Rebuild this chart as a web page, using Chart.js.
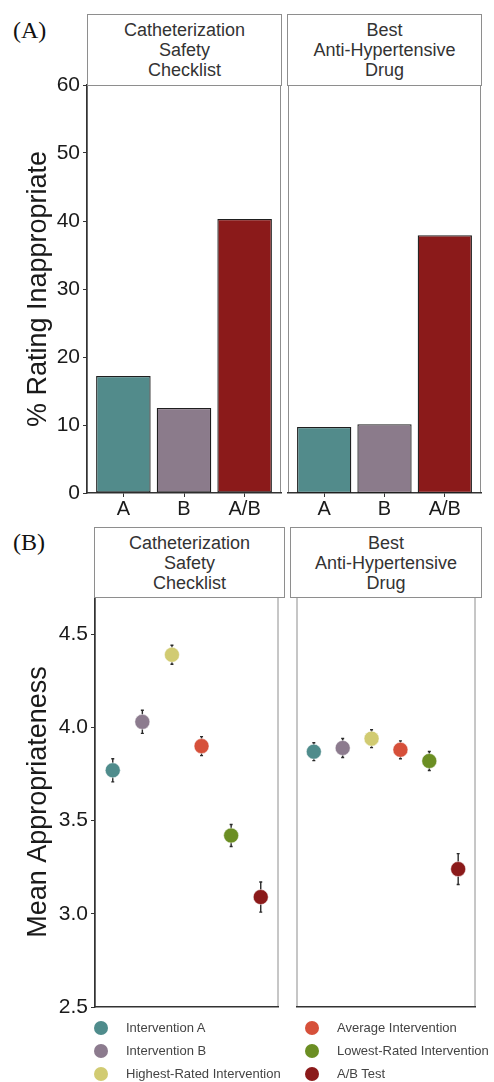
<!DOCTYPE html>
<html>
<head>
<meta charset="utf-8">
<script src="https://cdn.jsdelivr.net/npm/chart.js@4.4.1/dist/chart.umd.min.js"></script>
<style>
  body { margin:0; background:#fff; width:494px; height:1082px; overflow:hidden; position:relative; font-family:"Liberation Sans", Arial, sans-serif; }
  .box { position:absolute; }
  .strip { position:absolute; box-sizing:border-box; border:1px solid #8e8e8e; display:flex; align-items:center; justify-content:center; text-align:center; color:#333; font-size:18px; line-height:20px; white-space:pre; background:#fff; }
  .tag { position:absolute; font-family:"Liberation Serif", serif; font-size:24px; line-height:24px; color:#111; }
  .leg { position:absolute; height:16px; line-height:16px; font-size:13px; color:#444; white-space:nowrap; }
  .leg i { position:absolute; left:-32px; top:1px; width:14px; height:14px; border-radius:50%; }
</style>
</head>
<body>
<div class="tag" style="left:13px; top:18px;">(A)</div>
<div class="tag" style="left:13px; top:530px;">(B)</div>

<div class="box" style="left:0px; top:65px; width:284px; height:463px;"><canvas id="barCath"></canvas></div>
<div class="box" style="left:285px; top:65px; width:199px; height:463px;"><canvas id="barDrug"></canvas></div>
<div class="box" style="left:0px; top:577px; width:287px; height:450px;"><canvas id="dotCath"></canvas></div>
<div class="box" style="left:288px; top:577px; width:196px; height:450px;"><canvas id="dotDrug"></canvas></div>

<div class="strip" id="s1" style="left:87px; top:14px; width:195px; height:72px;"></div>
<div class="strip" id="s2" style="left:287px; top:14px; width:195px; height:72px;"></div>
<div class="strip" id="s3" style="left:94px; top:527px; width:191px; height:71px;"></div>
<div class="strip" id="s4" style="left:290px; top:527px; width:192px; height:71px;"></div>

<div id="legend"></div>

<script>
// facets
const facetNames = ['Catheterization\nSafety\nChecklist', 'Best\nAnti-Hypertensive\nDrug'];

// panel A: % rating inappropriate
const barCategories = ['A', 'B', 'A/B'];
const pctCath = [17.2, 12.5, 40.3];
const pctDrug = [9.7, 10.1, 37.9];
const pctTicks = [0, 10, 20, 30, 40, 50, 60];
const barColors = ['#528b8b', '#8b7b8b', '#8b1a1a'];

// panel B: mean appropriateness (+/- error)
const conditions = ['Intervention A', 'Intervention B', 'Highest-Rated Intervention',
                    'Average Intervention', 'Lowest-Rated Intervention', 'A/B Test'];
const meanCath = [3.77, 4.03, 4.39, 3.90, 3.42, 3.09];
const errCath = [0.062, 0.062, 0.051, 0.051, 0.059, 0.081];
const meanDrug = [3.87, 3.89, 3.94, 3.88, 3.82, 3.24];
const errDrug = [0.048, 0.051, 0.048, 0.048, 0.051, 0.083];
const meanTicks = [2.5, 3.0, 3.5, 4.0, 4.5];
const dotColors = ['#4f8c8c', '#8c7b8e', '#d1cb72', '#d6503a', '#6b8e23', '#8b1a1a'];

const FONT = '"Liberation Sans", Arial, sans-serif';
const INK = '#1a1a1a';

document.getElementById('s1').textContent = facetNames[0];
document.getElementById('s2').textContent = facetNames[1];
document.getElementById('s3').textContent = facetNames[0];
document.getElementById('s4').textContent = facetNames[1];

// legende en deux colonnes (ordre par colonne)
const leg = document.getElementById('legend');
conditions.forEach((c, i) => {
  const col = Math.floor(i / 3), row = i % 3;
  const d = document.createElement('div');
  d.className = 'leg';
  d.style.left = (col === 0 ? 126 : 337) + 'px';
  d.style.top = (1020 + row * 23) + 'px';
  d.innerHTML = '<i style="background:' + dotColors[i] + '"></i>' + c;
  leg.appendChild(d);
});

// cadre gris du panneau
const panelBox = {
  id: 'panelBox',
  beforeDraw(chart) {
    const a = chart.chartArea, ctx = chart.ctx;
    ctx.save();
    ctx.strokeStyle = '#8e8e8e';
    ctx.lineWidth = 1;
    ctx.strokeRect(a.left + 0.5, a.top + 0.5, a.right - a.left - 1, a.bottom - a.top - 1);
    ctx.restore();
  }
};

// barres d'erreur
const errorBars = {
  id: 'errorBars',
  beforeDatasetsDraw(chart) {
    const ds = chart.data.datasets[0];
    if (!ds.err) return;
    const ctx = chart.ctx, x = chart.scales.x, y = chart.scales.y;
    ctx.save();
    ctx.strokeStyle = '#2a2a2a';
    ctx.lineWidth = 1.4;
    ds.data.forEach((p, i) => {
      const px = x.getPixelForValue(p.x);
      const y1 = y.getPixelForValue(p.y + ds.err[i]);
      const y2 = y.getPixelForValue(p.y - ds.err[i]);
      ctx.beginPath();
      ctx.moveTo(px, y1); ctx.lineTo(px, y2);
      ctx.moveTo(px - 1.5, y1); ctx.lineTo(px + 1.5, y1);
      ctx.moveTo(px - 1.5, y2); ctx.lineTo(px + 1.5, y2);
      ctx.stroke();
    });
    ctx.restore();
  }
};

function yAxis(show, ticks, min, max, title, width, fmt) {
  return {
    display: show,
    min: min, max: max,
    afterBuildTicks: s => { s.ticks = ticks.map(v => ({ value: v })); },
    afterFit: s => { s.width = show ? width : 0; },
    ticks: { font: { family: FONT, size: 21 }, color: INK, padding: 3, callback: fmt },
    grid: { drawOnChartArea: false, tickLength: 4, tickColor: '#333' },
    border: { color: '#333', width: 1.4 },
    title: { display: true, text: title, color: INK, font: { family: FONT, size: 27 }, padding: { top: 22, bottom: 0 } }
  };
}

function barChart(id, values, showY) {
  new Chart(document.getElementById(id), {
    type: 'bar',
    data: {
      datasets: [{
        data: barCategories.map((c, i) => ({ x: i + 1, y: values[i] })),
        backgroundColor: barColors,
        borderColor: '#1f1f1f',
        borderWidth: 1.3,
        borderSkipped: false,
        categoryPercentage: 1,
        barPercentage: 0.9
      }]
    },
    options: {
      responsive: true, maintainAspectRatio: false, animation: false,
      layout: { padding: { top: 20, left: showY ? 0 : 3, right: 3, bottom: 0 } },
      plugins: { legend: { display: false }, tooltip: { enabled: false } },
      scales: {
        x: {
          type: 'linear', min: 0.4, max: 3.6, offset: false,
          afterBuildTicks: s => { s.ticks = barCategories.map((c, i) => ({ value: i + 1 })); },
          afterFit: s => { s.height = 35; },
          ticks: { font: { family: FONT, size: 20 }, color: INK, padding: 0, maxRotation: 0, autoSkip: false,
                   callback: v => barCategories[v - 1] },
          grid: { drawOnChartArea: false, offset: false, tickLength: 4, tickColor: '#333' },
          border: { color: '#333', width: 1.4 }
        },
        y: yAxis(showY, pctTicks, 0, 60, '% Rating Inappropriate', 87, v => String(v))
      }
    },
    plugins: [panelBox]
  });
}

function dotChart(id, means, errs, showY) {
  new Chart(document.getElementById(id), {
    type: 'scatter',
    data: {
      datasets: [{
        data: conditions.map((c, i) => ({ x: i + 1, y: means[i] })),
        err: errs,
        backgroundColor: dotColors,
        borderColor: 'rgba(255,255,255,0.5)',
        borderWidth: 1,
        pointRadius: 7.5
      }]
    },
    options: {
      responsive: true, maintainAspectRatio: false, animation: false,
      layout: { padding: { top: 20, left: showY ? 0 : 3, right: 3, bottom: 16 } },
      plugins: { legend: { display: false }, tooltip: { enabled: false } },
      scales: {
        x: {
          type: 'linear', min: 0.4, max: 6.6, offset: false,
          afterFit: s => { s.height = 4; },
          ticks: { display: false },
          grid: { drawOnChartArea: false, drawTicks: false },
          border: { color: '#333', width: 1.4 }
        },
        y: yAxis(showY, meanTicks, 2.5, 4.7, 'Mean Appropriateness', 95, v => v.toFixed(1))
      }
    },
    plugins: [panelBox, errorBars]
  });
}

barChart('barCath', pctCath, true);
barChart('barDrug', pctDrug, false);
dotChart('dotCath', meanCath, errCath, true);
dotChart('dotDrug', meanDrug, errDrug, false);
</script>
</body>
</html>
